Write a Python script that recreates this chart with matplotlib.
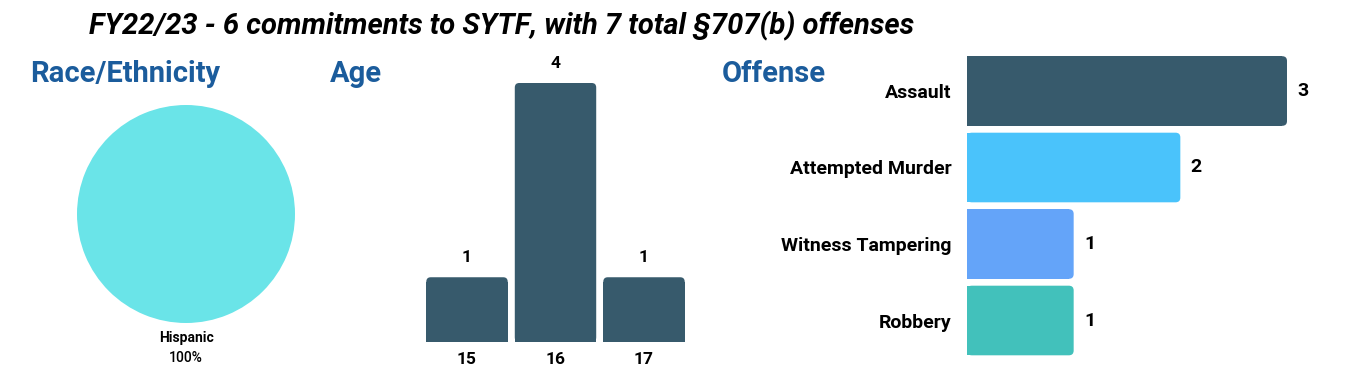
import matplotlib.pyplot as plt
from matplotlib.patches import FancyBboxPatch

plt.rcParams['font.family'] = ['Roboto', 'DejaVu Sans']

# data
race_labels = ['Hispanic']
race_pct = [100]

ages = ['15', '16', '17']
age_counts = [1, 4, 1]

offenses = ['Assault', 'Attempted Murder', 'Witness Tampering', 'Robbery']
offense_counts = [3, 2, 1, 1]
offense_colors = ['#375a6c', '#4ac3fb', '#64a4f9', '#42c1bb']

dark = '#375a6c'
head_blue = '#1b5c9c'

fig = plt.figure(figsize=(13.58, 3.68), dpi=100)

fig.text(502/1358, 1 - 26/368, 'FY22/23 - 6 commitments to SYTF, with 7 total §707(b) offenses',
         ha='center', va='center', fontsize=21, fontweight='bold', style='italic')

# section headers
fig.text(30/1358, 1 - 74/368, 'Race/Ethnicity', color=head_blue, fontsize=21,
         fontweight='bold', va='center')
fig.text(330/1358, 1 - 74/368, 'Age', color=head_blue, fontsize=21,
         fontweight='bold', va='center')
fig.text(722/1358, 1 - 74/368, 'Offense', color=head_blue, fontsize=21,
         fontweight='bold', va='center')

# pie
ax1 = fig.add_axes([77/1358, (368-323)/368, 218/1358, 218/368])
ax1.pie(race_pct, colors=['#6ae4e8'], startangle=90)
ax1.set_xlim(-1, 1)
ax1.set_ylim(-1, 1)
ax1.set_aspect('equal')
fig.text(186/1358, 1 - 338/368, race_labels[0], ha='center', va='center',
         fontsize=10, fontweight='bold')
fig.text(186/1358, 1 - 358/368, f'{race_pct[0]}%', ha='center', va='center',
         fontsize=10, fontweight='medium')


def round_bars(ax, bars, rx, ry, horizontal=False):
    # rounded end on the value side, square on the base side
    for p in bars:
        x, y, w, h = p.get_x(), p.get_y(), p.get_width(), p.get_height()
        ax.add_patch(FancyBboxPatch((x, y), w, h, boxstyle=f'round,pad=0,rounding_size={rx}',
                                    mutation_aspect=ry / rx, facecolor=p.get_facecolor(),
                                    edgecolor='none'))
        if horizontal:
            p.set_width(w - rx)
        else:
            p.set_height(h - ry)


# age bars
ax2 = fig.add_axes([422.75/1358, 26/368, 265.5/1358, 259/368])
bars = ax2.bar(range(len(ages)), age_counts, width=0.92, color=dark)
ax2.set_xlim(-0.5, 2.5)
ax2.set_ylim(0, 4)
round_bars(ax2, bars, 0.05, 0.07)
for i, v in enumerate(age_counts):
    ax2.text(i, v + 0.3, str(v), ha='center', va='center', fontsize=12.5, fontweight='bold')
ax2.set_xticks(range(len(ages)))
ax2.set_xticklabels(ages, fontsize=12.5, fontweight='bold')
ax2.tick_params(length=0, pad=7)
ax2.set_yticks([])
for s in ax2.spines.values():
    s.set_visible(False)
ax2.set_facecolor('none')

# offense bars
ax3 = fig.add_axes([967/1358, (368-358.75)/368, 320/1358, 306/368])
hbars = ax3.barh(range(len(offenses)), offense_counts, height=0.91, color=offense_colors)
ax3.set_xlim(0, 3)
ax3.set_ylim(3.5, -0.5)
round_bars(ax3, hbars, 0.045, 0.062, horizontal=True)
for i, v in enumerate(offense_counts):
    ax3.text(v + 0.15, i, str(v), ha='center', va='center', fontsize=14, fontweight='bold')
ax3.set_yticks(range(len(offenses)))
ax3.set_yticklabels(offenses, fontsize=14, fontweight='bold')
ax3.tick_params(length=0, pad=11)
ax3.set_xticks([])
for s in ax3.spines.values():
    s.set_visible(False)
ax3.set_facecolor('none')

fig.savefig('out.png', dpi=100)
